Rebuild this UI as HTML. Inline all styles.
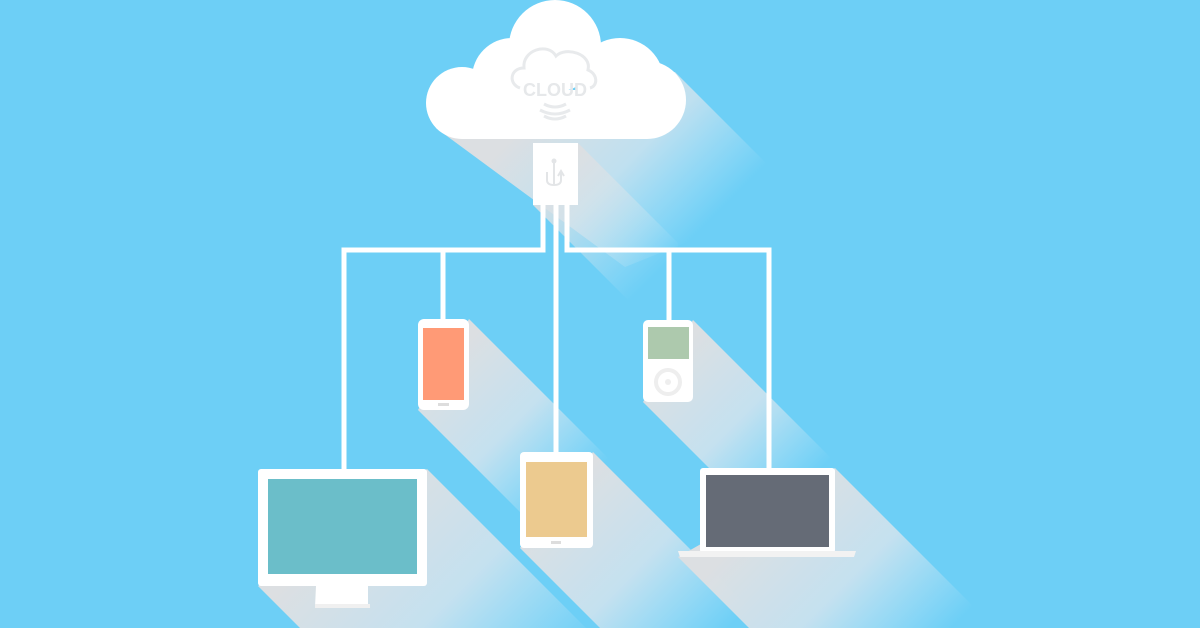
<!DOCTYPE html>
<html><head><meta charset="utf-8"><style>html,body{margin:0;padding:0;background:#6dcff6;width:1200px;height:628px;overflow:hidden}svg{display:block;overflow:hidden}</style></head>
<body>
<svg width="1200" height="628" viewBox="0 0 1200 628" xmlns="http://www.w3.org/2000/svg">
<defs>
<linearGradient id="g0" gradientUnits="userSpaceOnUse" x1="560" y1="90" x2="700" y2="230"><stop offset="0" stop-color="#dcdfe2"/><stop offset="0.5" stop-color="#d4e4ee" stop-opacity="0.8"/><stop offset="1" stop-color="#cfeaf7" stop-opacity="0"/></linearGradient>
<linearGradient id="g1" gradientUnits="userSpaceOnUse" x1="555" y1="175" x2="655" y2="275"><stop offset="0" stop-color="#dcdfe2"/><stop offset="1" stop-color="#cfeaf7" stop-opacity="0"/></linearGradient>
<linearGradient id="gm" gradientUnits="userSpaceOnUse" x1="342" y1="527" x2="522" y2="707"><stop offset="0" stop-color="#dcdfe2"/><stop offset="0.5" stop-color="#d4e4ee" stop-opacity="0.85"/><stop offset="1" stop-color="#cfeaf7" stop-opacity="0"/></linearGradient>
<linearGradient id="gp" gradientUnits="userSpaceOnUse" x1="443" y1="365" x2="573" y2="495"><stop offset="0" stop-color="#dcdfe2"/><stop offset="0.5" stop-color="#d4e4ee" stop-opacity="0.85"/><stop offset="1" stop-color="#cfeaf7" stop-opacity="0"/></linearGradient>
<linearGradient id="gt" gradientUnits="userSpaceOnUse" x1="556" y1="500" x2="706" y2="650"><stop offset="0" stop-color="#dcdfe2"/><stop offset="0.5" stop-color="#d4e4ee" stop-opacity="0.85"/><stop offset="1" stop-color="#cfeaf7" stop-opacity="0"/></linearGradient>
<linearGradient id="gi" gradientUnits="userSpaceOnUse" x1="668" y1="361" x2="798" y2="491"><stop offset="0" stop-color="#dcdfe2"/><stop offset="0.5" stop-color="#d4e4ee" stop-opacity="0.85"/><stop offset="1" stop-color="#cfeaf7" stop-opacity="0"/></linearGradient>
<linearGradient id="gl" gradientUnits="userSpaceOnUse" x1="767" y1="512" x2="917" y2="662"><stop offset="0" stop-color="#dcdfe2"/><stop offset="0.5" stop-color="#d4e4ee" stop-opacity="0.85"/><stop offset="1" stop-color="#cfeaf7" stop-opacity="0"/></linearGradient>
</defs>
<rect width="1200" height="628" fill="#6dcff6"/>
<!-- shadows -->
<polygon points="675,72 800,197 625,267 436,128" fill="url(#g0)"/>
<polygon points="578,143 678,243 678,305 633,305 533,205" fill="url(#g1)"/>
<polygon points="427,469 586,628 300,628 258,586" fill="url(#gm)"/>
<polygon points="469,319 619,469 619,560 568,560 418,410" fill="url(#gp)"/>
<polygon points="593,452 753,612 753,628 600,628 520,548" fill="url(#gt)"/>
<polygon points="693,320 843,470 843,552 793,552 643,402" fill="url(#gi)"/>
<polygon points="835,468 985,618 985,628 749,628 678,557" fill="url(#gl)"/>
<!-- connectors -->
<g fill="none" stroke="#fff" stroke-width="5">
<path d="M344,469 V250 H543 V205"/>
<path d="M443,250 V319"/>
<path d="M556,205 V452"/>
<path d="M769,469 V250 H567 V205"/>
<path d="M669,250 V320"/>
</g>
<!-- cloud -->
<g fill="#fff">
<circle cx="462" cy="103" r="36"/>
<circle cx="512" cy="78" r="40"/>
<circle cx="555" cy="46" r="46"/>
<circle cx="620" cy="82" r="44"/>
<circle cx="647" cy="100" r="39"/>
<rect x="462" y="90" width="185" height="49"/>
</g>
<g fill="none" stroke="#e8eaec" stroke-width="3">
<path d="M520,88 C508,84 510,68 524,68 C522,50 548,42 556,56 C566,46 592,54 588,70 C598,74 598,86 590,88"/>
<path d="M544,104 Q555,110 566,104"/><path d="M540,110 Q555,118 570,110"/><path d="M544,116 Q555,122 566,116"/>
</g>
<text x="555" y="96" text-anchor="middle" font-family="Liberation Sans, sans-serif" font-weight="bold" font-size="18" fill="#e6e8ea">CLOUD</text>
<!-- usb box -->
<rect x="533" y="143" width="45" height="62" fill="#fff"/>
<g fill="none" stroke="#e3e5e7" stroke-width="2"><path d="M554,160 V185 M547,172 V180 Q547,185 554,185 Q561,185 561,180 V172"/><path d="M558,176 L561,171 L564,176"/></g>
<circle cx="554" cy="161" r="2.5" fill="#e3e5e7"/>
<!-- monitor -->
<rect x="258" y="469" width="169" height="117" rx="3" fill="#fff"/>
<rect x="268" y="479" width="149" height="95" fill="#6bbec9"/>
<polygon points="316,586 368,586 368,607 315,607" fill="#fff"/>
<rect x="315" y="604" width="55" height="4" fill="#f0f0f0"/>
<!-- phone -->
<rect x="418" y="319" width="51" height="91" rx="6" fill="#fff"/>
<rect x="423" y="328" width="41" height="72" fill="#ff9a76"/>
<rect x="438" y="403" width="11" height="3" fill="#ddd"/>
<!-- tablet -->
<rect x="520" y="452" width="73" height="96" rx="4" fill="#fff"/>
<rect x="526" y="462" width="61" height="75" fill="#ecca8f"/>
<rect x="551" y="541" width="10" height="3" fill="#ddd"/>
<!-- ipod -->
<rect x="643" y="320" width="50" height="82" rx="5" fill="#fff"/>
<rect x="648" y="327" width="41" height="32" fill="#adc9ad"/>
<circle cx="668" cy="382" r="12" fill="none" stroke="#eeeeee" stroke-width="4"/>
<circle cx="668" cy="382" r="3" fill="#eee"/>
<!-- laptop -->
<rect x="700" y="468" width="135" height="85" rx="3" fill="#fff"/>
<rect x="706" y="475" width="123" height="72" fill="#656b76"/>
<polygon points="678,551 856,551 854,557 680,557" fill="#f2f2f2"/>
</svg>
</body></html>
